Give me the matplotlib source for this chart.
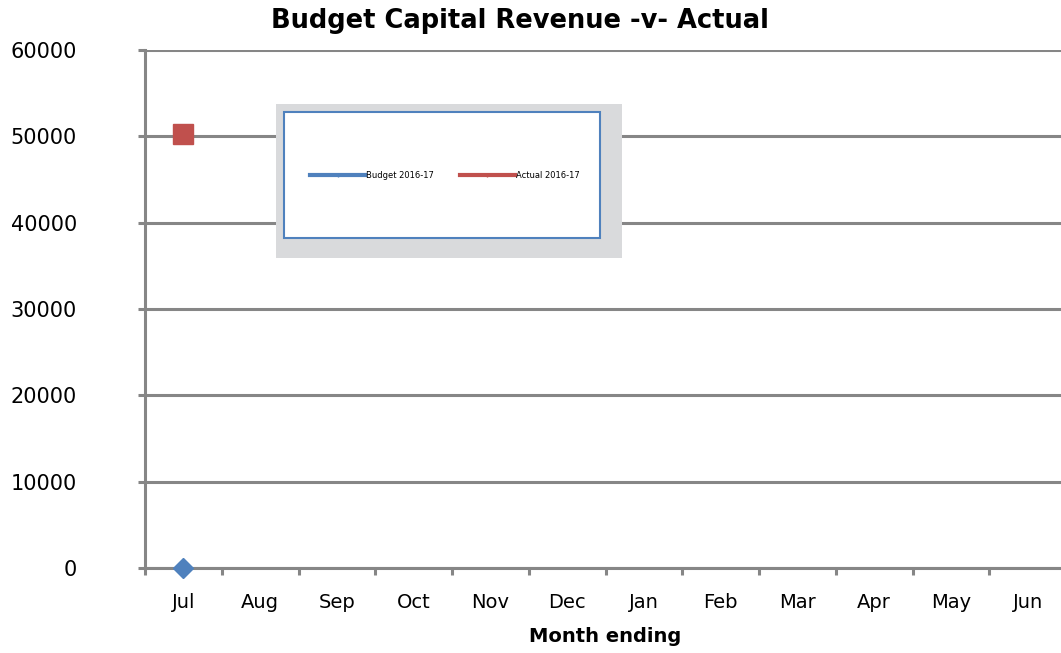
import matplotlib
matplotlib.use("Agg")
import matplotlib.pyplot as plt
from matplotlib.patches import Rectangle
from matplotlib.lines import Line2D
import numpy as np

months = ["Jul", "Aug", "Sep", "Oct", "Nov", "Dec", "Jan", "Feb", "Mar", "Apr", "May", "Jun"]
budget = [0]
actual = [50300]
yticks = [0, 10000, 20000, 30000, 40000, 50000, 60000]

BLUE = "#4F81BD"
RED = "#C0504D"
GRID = "#868686"

W, H = 1061, 653
fig = plt.figure(figsize=(W / 100, H / 100), dpi=100)
ax = fig.add_axes([145 / W, (H - 568) / H, (1066 - 145) / W, (568 - 50) / H])

x = np.arange(len(months))
ax.plot(x[:len(budget)], budget, color=BLUE, lw=2.5, marker="D", markersize=10,
        label="Budget 2016-17", zorder=5, clip_on=False)
ax.plot(x[:len(actual)], actual, color=RED, lw=2.5, marker="s", markersize=14,
        label="Actual 2016-17", zorder=5, clip_on=False)

ax.set_xlim(-0.5, len(months) - 0.5)
ax.set_ylim(0, 60000)
ax.set_yticks(yticks)
ax.set_yticklabels([str(v) for v in yticks], fontsize=15)
ax.set_xticks(x)
ax.set_xticklabels(months, fontsize=14)
ax.set_xticks(np.arange(-0.5, len(months), 1.0), minor=True)
ax.tick_params(axis="x", which="major", length=0, pad=18)
ax.tick_params(axis="x", which="minor", length=5, width=2.2, color=GRID, direction="out")
ax.tick_params(axis="y", which="major", length=5, width=2.2, color=GRID, pad=44)

ax.grid(axis="y", color=GRID, lw=2.2, zorder=0)
ax.set_axisbelow(True)
for s in ["top", "right"]:
    ax.spines[s].set_visible(False)
ax.spines["left"].set_color(GRID)
ax.spines["left"].set_linewidth(2.2)
ax.spines["bottom"].set_color(GRID)
ax.spines["bottom"].set_linewidth(2.2)

ax.set_xlabel("Month ending", fontsize=14, fontweight="bold", labelpad=11)
fig.text(520 / W, 1 - 21 / H, "Budget Capital Revenue -v- Actual", fontsize=18.5,
         fontweight="bold", ha="center", va="center")

# legend boxes
fig.patches.append(Rectangle((276 / W, 1 - 258 / H), (622 - 276) / W, (258 - 104) / H,
                             transform=fig.transFigure, facecolor="#D9DADC",
                             edgecolor="none", zorder=10))
fig.patches.append(Rectangle((284 / W, 1 - 238 / H), (600 - 284) / W, (238 - 112) / H,
                             transform=fig.transFigure, facecolor="white",
                             edgecolor=BLUE, lw=1.5, zorder=11))
handles = [Line2D([], [], color=BLUE, lw=3, marker="|", markersize=3),
           Line2D([], [], color=RED, lw=3, marker="|", markersize=3)]
leg = fig.legend(handles, ["Budget 2016-17", "Actual 2016-17"], loc="center",
                 bbox_to_anchor=(445 / W, 1 - 175 / H), ncol=2, frameon=False,
                 fontsize=6, handlelength=6.5, columnspacing=3.2, handletextpad=0.15)
leg.set_zorder(12)

fig.savefig("out.png", dpi=100)
